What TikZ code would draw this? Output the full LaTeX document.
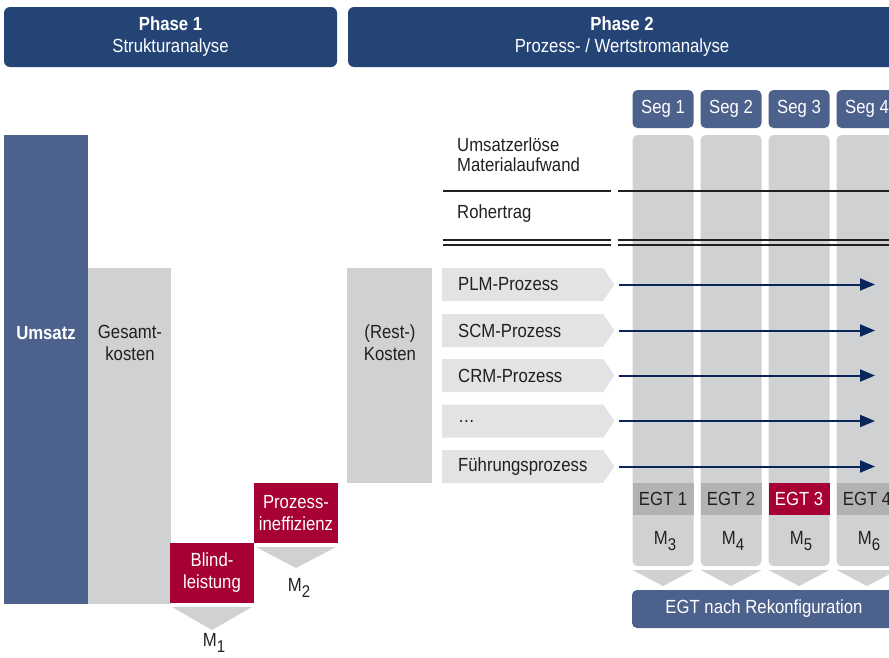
\documentclass[tikz,border=0pt]{standalone}
\usepackage{fontspec}
\setmainfont{Liberation Sans}[FakeStretch=0.88]
\usetikzlibrary{shapes.symbols, arrows.meta}

\definecolor{phaseblue}{RGB}{36,68,118}
\definecolor{segblue}{RGB}{77,97,141}
\definecolor{colgray}{RGB}{208,209,211}
\definecolor{bandgray}{RGB}{177,178,180}
\definecolor{procgray}{RGB}{226,227,229}
\definecolor{ineffred}{RGB}{166,0,52}
\definecolor{flowblue}{RGB}{8,38,92}
\definecolor{textgray}{RGB}{35,31,32}

\newcommand{\msub}[1]{M\raisebox{-6pt}{\fontsize{17}{17}\selectfont#1}}

\begin{document}
\begin{tikzpicture}[x=1pt, y=-1pt,
    every node/.style={inner sep=0pt, font=\fontsize{19}{22}\selectfont, text=textgray},
    strong/.style={font=\fontsize{19}{22}\selectfont\bfseries},
    phasebox/.style={rectangle, rounded corners=6pt, fill=phaseblue, text=white, align=center, minimum height=60pt},
    segbox/.style={rectangle, rounded corners=5pt, fill=segblue, text=white, minimum width=61pt, minimum height=38pt},
    segcol/.style={rectangle, rounded corners=5pt, fill=colgray, minimum width=61pt, minimum height=431pt},
    band/.style={rectangle, fill=bandgray, minimum width=61pt, minimum height=32pt},
    redbox/.style={rectangle, fill=ineffred, text=white, align=center, minimum width=84pt, minimum height=60pt},
    proc/.style={signal, signal to=east, signal pointer angle=112, fill=procgray, minimum height=33pt, text width=129pt, inner xsep=16pt, align=left},
    chevron/.style={fill=colgray},
    tablerule/.style={draw=textgray, line width=1.4pt},
    flow/.style={draw=flowblue, line width=2pt, -{Triangle[length=15pt, width=12pt]}, shorten <=4pt}
]
    \useasboundingbox (0,0) rectangle (889,657);
    \clip (0,0) rectangle (889,657);

    \node[phasebox, minimum width=333pt] (phaseA) at (170.5,37) {\textbf{Phase 1}\\Strukturanalyse};
    \node[phasebox, minimum width=548pt] (phaseB) at (622,37) {\textbf{Phase 2}\\Prozess- / Wertstromanalyse};

    \node[fill=segblue, minimum width=84pt, minimum height=469pt] (umsatz) at (46,369.5) {};
    \node[strong, text=white] (umsatzlabel) at (46,333) {Umsatz};
    \node[fill=colgray, minimum width=83pt, minimum height=336pt] (gesamt) at (129.5,436) {};
    \node[align=center] (gesamtlabel) at (130,343) {Gesamt-\\kosten};
    \node[redbox] (blind) at (212,573) {Blind-\\leistung};
    \node[redbox] (ineff) at (296,513) {Prozess-\\ineffizienz};
    \fill[chevron] (172,607) -- (252,607) -- (212,630) -- cycle;
    \fill[chevron] (256,547) -- (336,547) -- (296,568) -- cycle;
    \node (mA) at (214,643) {\msub{1}};
    \node (mB) at (299,588) {\msub{2}};

    \node[fill=colgray, minimum width=85pt, minimum height=215pt] (rest) at (389.5,375.5) {};
    \node[align=center] (restlabel) at (390,343) {(Rest-)\\Kosten};

    \node[segbox] (segA) at (663,109) {Seg 1};
    \node[segbox] (segB) at (731,109) {Seg 2};
    \node[segbox] (segC) at (799,109) {Seg 3};
    \node[segbox] (segD) at (867,109) {Seg 4};
    \node[segcol] (colA) at (663,350.5) {};
    \node[segcol] (colB) at (731,350.5) {};
    \node[segcol] (colC) at (799,350.5) {};
    \node[segcol] (colD) at (867,350.5) {};
    \node[band] (egtA) at (663,499) {EGT 1};
    \node[band] (egtB) at (731,499) {EGT 2};
    \node[band, fill=ineffred, text=white] (egtC) at (799,499) {EGT 3};
    \node[band] (egtD) at (867,499) {EGT 4};
    \node (mC) at (665,541) {\msub{3}};
    \node (mD) at (733,541) {\msub{4}};
    \node (mE) at (801,541) {\msub{5}};
    \node (mF) at (869,541) {\msub{6}};
    \fill[chevron] (632.5,570) -- (693.5,570) -- (663,586) -- cycle;
    \fill[chevron] (700.5,570) -- (761.5,570) -- (731,586) -- cycle;
    \fill[chevron] (768.5,570) -- (829.5,570) -- (799,586) -- cycle;
    \fill[chevron] (836.5,570) -- (897.5,570) -- (867,586) -- cycle;
    \node[segbox, minimum width=264pt] (rekonf) at (764,609) {EGT nach Rekonfiguration};

    \node[anchor=west, align=left, font=\fontsize{19}{20}\selectfont] (erloese) at (457,155) {Umsatzerlöse\\Materialaufwand};
    \node[anchor=west] (rohertrag) at (457,214) {Rohertrag};
    \draw[tablerule] (443,191) -- (611,191);
    \draw[tablerule] (618,191) -- (889,191);
    \draw[tablerule, line width=1.1pt] (443,240) -- (611,240);
    \draw[tablerule, line width=1.1pt] (618,240) -- (889,240);
    \draw[tablerule, line width=1.1pt] (443,245) -- (611,245);
    \draw[tablerule, line width=1.1pt] (618,245) -- (889,245);

    \node[proc, anchor=west] (plm) at (442,284.5) {PLM-Prozess};
    \node[proc, anchor=west] (scm) at (442,330.5) {SCM-Prozess};
    \node[proc, anchor=west] (crm) at (442,375.5) {CRM-Prozess};
    \node[proc, anchor=west] (more) at (442,421) {\dots};
    \node[proc, anchor=west] (fuehrung) at (442,466.5) {Führungsprozess};

    \coordinate (flowend) at (875,0);
    \draw[flow] (plm.east) -- (plm.east -| flowend);
    \draw[flow] (scm.east) -- (scm.east -| flowend);
    \draw[flow] (crm.east) -- (crm.east -| flowend);
    \draw[flow] (more.east) -- (more.east -| flowend);
    \draw[flow] (fuehrung.east) -- (fuehrung.east -| flowend);
\end{tikzpicture}
\end{document}
